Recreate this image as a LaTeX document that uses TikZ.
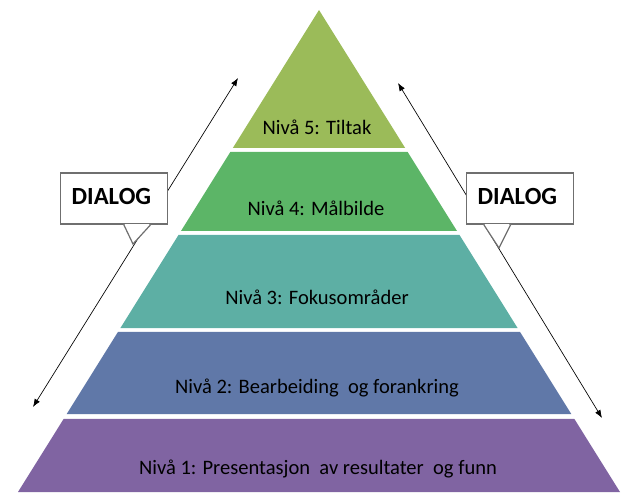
\documentclass[tikz,border=0pt]{standalone}
\usepackage{fontspec}
\setmainfont{Carlito}
\usetikzlibrary{calc,arrows.meta}

\definecolor{niva5}{HTML}{9BBB59}
\definecolor{niva4}{HTML}{5CB567}
\definecolor{niva3}{HTML}{5DAFA4}
\definecolor{niva2}{HTML}{6078A8}
\definecolor{niva1}{HTML}{8064A2}
\definecolor{boxgray}{HTML}{6F6F6F}

\tikzset{
  nivatext/.style={font=\fontsize{15.4}{18}\selectfont, text=black},
  dialogbox/.style={draw=boxgray, line width=0.9pt, fill=white, inner xsep=8.5pt,
    text width=63.5pt, align=left, minimum height=38.25pt, text depth=0.28em,
    font=\fontsize{18.5}{21}\selectfont\bfseries},
  dialogarrow/.style={{Latex[length=6pt,width=4.5pt]}-{Latex[length=6pt,width=4.5pt]}, line width=0.5pt}
}

\begin{document}
\begin{tikzpicture}[x=0.75pt,y=-0.75pt]
  \useasboundingbox (0,0) rectangle (633,503);

  \coordinate (apex) at (319,10);
  \coordinate (bl) at (18,492);
  \coordinate (br) at (620,492);

  % pyramid
  \fill[niva5] (apex) -- ($(apex)!.2863!(br)$) -- ($(apex)!.2863!(bl)$) -- cycle;
  \foreach \t/\b/\c in {.2946/.4585/niva4, .4668/.6598/niva3, .6680/.8382/niva2, .8485/1/niva1}
    \fill[\c] ($(apex)!\t!(bl)$) -- ($(apex)!\t!(br)$) -- ($(apex)!\b!(br)$) -- ($(apex)!\b!(bl)$) -- cycle;

  \node[nivatext] (n5) at (317,127) {Nivå 5: Tiltak};
  \node[nivatext] (n4) at (316,208) {Nivå 4: Målbilde};
  \node[nivatext] (n3) at (317,297) {Nivå 3: Fokusområder};
  \node[nivatext] (n2) at (317,388) {Nivå 2: Bearbeiding~ og forankring};
  \node[nivatext] (n1) at (318,469) {Nivå 1: Presentasjon~ av resultater~ og funn};

  % dialog arrows
  \coordinate (aL1) at (33,407);
  \coordinate (aL2) at (238,78);
  \coordinate (aR1) at (398,83);
  \coordinate (aR2) at (602,418);
  \draw[dialogarrow] (aL1) -- (aL2);
  \draw[dialogarrow] (aR1) -- (aR2);

  % callouts
  \node[dialogbox] (dL) at (114,198.5) {DIALOG};
  \coordinate (pL) at (133,244);
  \draw[draw=boxgray, line width=0.9pt, fill=white] ($(dL.south west)+(64,0)$) -- (pL) -- ($(dL.south west)+(91,0)$);
  \draw[white, line width=1.2pt] ($(dL.south west)+(65.5,0)$) -- ($(dL.south west)+(89.5,0)$);

  \node[dialogbox] (dR) at (520,198.5) {DIALOG};
  \coordinate (pR) at (499,248);
  \draw[draw=boxgray, line width=0.9pt, fill=white] ($(dR.south west)+(18,0)$) -- (pR) -- ($(dR.south west)+(45,0)$);
  \draw[white, line width=1.2pt] ($(dR.south west)+(19.5,0)$) -- ($(dR.south west)+(43.5,0)$);
\end{tikzpicture}
\end{document}
